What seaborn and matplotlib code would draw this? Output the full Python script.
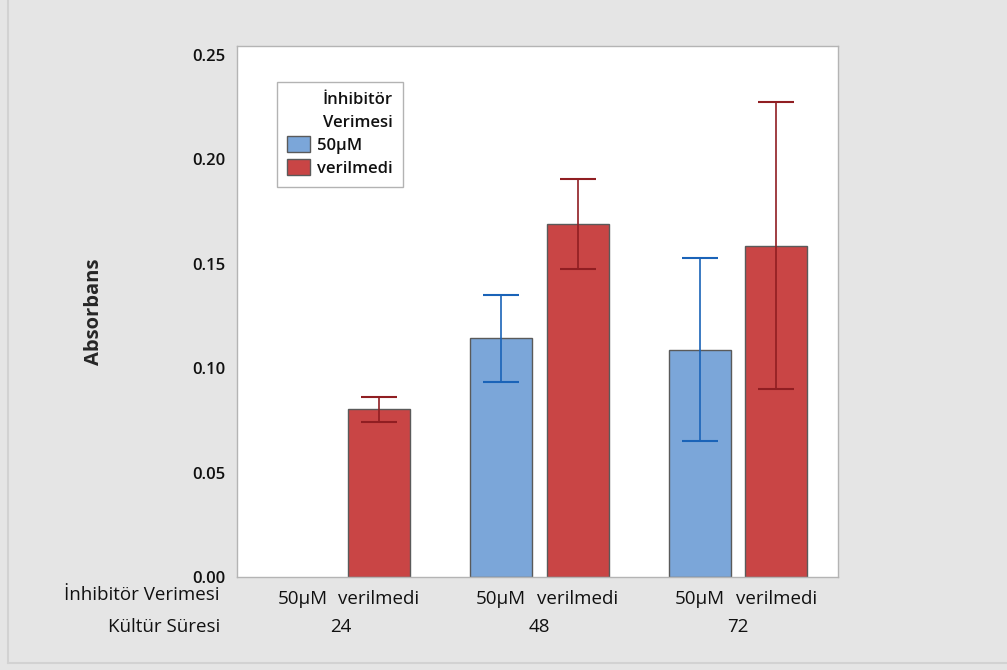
import numpy as np
import pandas as pd
import matplotlib.pyplot as plt
import matplotlib.transforms as mtransforms
from matplotlib.lines import Line2D
from matplotlib.patches import Patch
import seaborn as sns

# ============================================
# Data
# ============================================
kultur_suresi = ["24", "48", "72"]
inhibitor = ["50µM", "verilmedi"]

# absorbans per (kultur, inhibitor); 24 / 50µM has no bar
absorbans = [np.nan, 0.0805, 0.1145, 0.1690, 0.1087, 0.1585]
err_low = [np.nan, 0.0742, 0.0934, 0.1475, 0.0651, 0.0900]
err_high = [np.nan, 0.0862, 0.1350, 0.1905, 0.1528, 0.2275]

# ============================================
# Setup
# ============================================
sns.set_style("white")
plt.rcParams["font.family"] = ["Open Sans", "DejaVu Sans"]
plt.rcParams["text.color"] = "#111111"

BG = "#E5E5E5"
COLORS = {"50µM": "#7BA6D9", "verilmedi": "#C94545"}
ERR_COLORS = {"50µM": "#1A63B8", "verilmedi": "#901E22"}
GROUP_STEP = 2.6

rows = []
for gi, k in enumerate(kultur_suresi):
    for hi, inh in enumerate(inhibitor):
        i = gi * len(inhibitor) + hi
        rows.append({"kultur": k, "inhibitor": inh,
                     "pos": gi * GROUP_STEP + hi,
                     "absorbans": absorbans[i],
                     "low": err_low[i], "high": err_high[i]})
df = pd.DataFrame(rows)
plot_df = df.dropna(subset=["absorbans"])

fig = plt.figure(figsize=(10.07, 6.70), dpi=100, facecolor=BG)
ax = fig.add_axes([0.2353, 0.1388, 0.5969, 0.7925])
ax.set_facecolor("white")

# thin frame lines on the left and bottom of the figure
fig.lines.append(Line2D([0.0075, 0.0075], [0.011, 1.0], transform=fig.transFigure,
                        color="#D2D2D2", linewidth=1.5))
fig.lines.append(Line2D([0.0075, 1.0], [0.011, 0.011], transform=fig.transFigure,
                        color="#D2D2D2", linewidth=1.5))

sns.barplot(data=plot_df, x="pos", y="absorbans", hue="inhibitor",
            hue_order=inhibitor, palette=COLORS, native_scale=True,
            dodge=False, width=0.81, errorbar=None, saturation=1,
            edgecolor="#5A5A5A", linewidth=1.0, ax=ax, legend=False)

# error bars
for inh in inhibitor:
    sub = plot_df[plot_df["inhibitor"] == inh]
    yerr = [sub["absorbans"] - sub["low"], sub["high"] - sub["absorbans"]]
    ax.errorbar(sub["pos"], sub["absorbans"], yerr=yerr, fmt="none",
                ecolor=ERR_COLORS[inh], elinewidth=1.2, capsize=13,
                capthick=1.5, zorder=5)

ax.set_xlim(-0.86, 7.01)
ax.set_ylim(0, 0.2543)
ax.set_yticks(np.arange(0, 0.26, 0.05))
ax.set_yticklabels([f"{v:.2f}" for v in np.arange(0, 0.26, 0.05)],
                   fontsize=12, fontweight="semibold")
ax.set_xticks(df["pos"])
ax.set_xticklabels(df["inhibitor"], fontsize=13.5)
ax.set_xlabel("")
ax.set_ylabel("Absorbans", fontsize=14.5, fontweight="bold", labelpad=64)

for s in ax.spines.values():
    s.set_color("#B4B4B4")
    s.set_linewidth(1.0)
ax.tick_params(axis="both", direction="out", length=6, color="#B4B4B4",
               width=1.0, pad=2, labelcolor="#111111")
ax.tick_params(axis="x", pad=3)

# second header row under the axis
trans = mtransforms.blended_transform_factory(ax.transData, ax.transAxes)
for gi, k in enumerate(kultur_suresi):
    ax.text(gi * GROUP_STEP + 0.5, -0.095, k, transform=trans,
            ha="center", va="center", fontsize=13.5)
ax.text(220 / 1007, 1 - 595 / 670, "İnhibitör Verimesi", transform=fig.transFigure,
        ha="right", va="center", fontsize=13.5)
ax.text(220 / 1007, 1 - 627 / 670, "Kültür Süresi", transform=fig.transFigure,
        ha="right", va="center", fontsize=13.5)

# legend
handles = [Patch(facecolor=COLORS[h], edgecolor="#5A5A5A", label=h) for h in inhibitor]
leg = ax.legend(handles=handles, title="İnhibitör\nVerimesi", loc="upper left",
                bbox_to_anchor=(0.066, 0.932), borderaxespad=0, fancybox=False,
                frameon=True, fontsize=12, title_fontsize=12,
                handlelength=1.4, handleheight=1.1, handletextpad=0.45,
                borderpad=0.6, labelspacing=0.3)
leg.get_frame().set_edgecolor("#A0A0A0")
leg.get_frame().set_linewidth(1.0)
leg.get_title().set_fontweight("semibold")
leg.get_title().set_linespacing(1.6)
leg.get_title().set_ha("left")
for t in leg.get_texts():
    t.set_fontweight("semibold")
leg._legend_box.align = "right"

plt.savefig("out.png", dpi=100, facecolor=BG)
